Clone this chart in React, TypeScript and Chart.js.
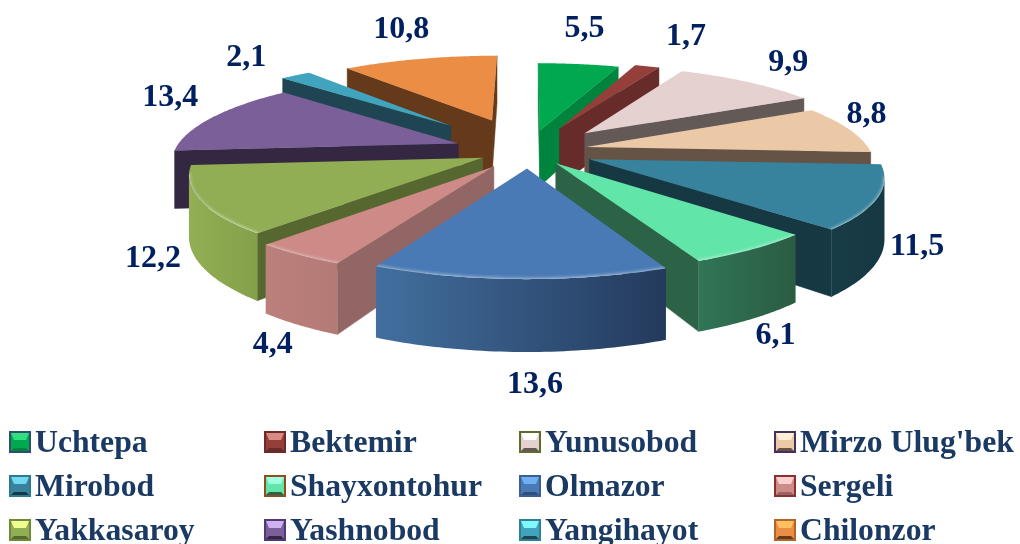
import React, { useEffect, useRef } from "react";
import { Chart, registerables } from "chart.js";

Chart.register(...registerables);

const districts = ["Uchtepa", "Bektemir", "Yunusobod", "Mirzo Ulug'bek", "Mirobod", "Shayxontohur", "Olmazor", "Sergeli", "Yakkasaroy", "Yashnobod", "Yangihayot", "Chilonzor"];
const shares = [5.5, 1.7, 9.9, 8.8, 11.5, 6.1, 13.6, 4.4, 12.2, 13.4, 2.1, 10.8];
const explode = [72, 85, 85, 60, 66, 48, 56, 60, 50, 75, 120, 115];

const topColors = ["#00A84F", "#953F3B", "#E5D1CF", "#EBC9A7", "#37829C", "#62E5A9", "#4A7AB5", "#CD8A87", "#92AE55", "#7B5F99", "#41A4BF", "#EB8D44"];
const sideColors = ["#00843D", "#672B2A", "#635957", "#655345", "#163842", "#2C6346", "#2E4F7A", "#926664", "#566830", "#332741", "#1E4551", "#643A1B"];
const wallLeft = ["#00843D", "#672B2A", "#635957", "#655345", "#183C47", "#307556", "#426F9F", "#BC807C", "#93AF54", "#332741", "#1E4551", "#643A1B"];
const wallRight = ["#00843D", "#672B2A", "#635957", "#655345", "#163842", "#2B5C42", "#243A5C", "#B47A76", "#84A049", "#332741", "#1E4551", "#643A1B"];
const swatchEdge = ["#2F4D75", "#6E2A28", "#5F6A2F", "#43305E", "#2F7A90", "#8A5020", "#3A5F95", "#8A302F", "#6F8A3A", "#4F3A75", "#2F7F95", "#B0652A"];
const swatchLight = ["#30E080", "#D88A85", "#FFFFFF", "#FFEFD5", "#70D8F0", "#A0FFE0", "#70B0F0", "#F8D0D0", "#F0FF90", "#D0B0F0", "#80F8FF", "#FFC060"];

const labelColor = "#002060";
const legendColor = "#1B3A63";
const serif = '"Liberation Serif", "Times New Roman", serif';
const labelFont = `bold 32px ${serif}`;

const RADIUS = 284;
const DEPTH = 58;
const TILT = 0.3;
const PERSPECTIVE = 0.0006;
const labelGap = 34;
const labelShiftX = [2, 30, 23, -13, 2, -5, 16, 2, -10, -14, -33, -11];
const labelShiftY = [-29, -23, -14, -13, -20, 3, 14, 6, -12, -17, -12, -23];

const pie3d = {
  id: "pie3d",
  beforeDatasetsDraw(chart: any) {
    const ctx = chart.ctx;
    const arcs = chart.getDatasetMeta(0).data;
    const items = arcs.map((arc: any, i: number) => {
      const { x, y, startAngle, endAngle, outerRadius } = arc.getProps(["x", "y", "startAngle", "endAngle", "outerRadius"], true);
      const mid = (startAngle + endAngle) / 2;
      const off = arc.options.offset;
      const ox = off * Math.cos(mid);
      const oy = off * Math.sin(mid);
      const project = (u: number, v: number, z = 0) => {
        const s = 1 / (1 - PERSPECTIVE * v);
        return { x: x + u * s, y: y + TILT * v * s + z * s };
      };
      return { i, startAngle, endAngle, outerRadius, mid, off, ox, oy, project, key: (off + outerRadius * 0.66) * Math.sin(mid) };
    });
    const poly = (pts: any[]) => {
      ctx.beginPath();
      pts.forEach((p, n) => (n ? ctx.lineTo(p.x, p.y) : ctx.moveTo(p.x, p.y)));
      ctx.closePath();
    };
    [...items].sort((a: any, b: any) => a.key - b.key).forEach((it: any) => {
      const { i, startAngle, endAngle, outerRadius: r, ox, oy, project } = it;
      const steps = 48;
      const rimAt = (n: number, z = 0) => {
        const a = startAngle + ((endAngle - startAngle) * n) / steps;
        return project(ox + r * Math.cos(a), oy + r * Math.sin(a), z);
      };
      const apex = project(ox, oy);
      const apexLow = project(ox, oy, DEPTH);
      const rim = Array.from({ length: steps + 1 }, (_, n) => rimAt(n));
      const rimLow = Array.from({ length: steps + 1 }, (_, n) => rimAt(n, DEPTH));
      // radial walls
      ctx.fillStyle = sideColors[i];
      ctx.strokeStyle = sideColors[i];
      ctx.lineWidth = 0.5;
      if (rim[0].x < apex.x) {
        poly([apex, rim[0], rimLow[0], apexLow]);
        ctx.fill();
        ctx.stroke();
      }
      if (apex.x < rim[steps].x) {
        poly([apex, rim[steps], rimLow[steps], apexLow]);
        ctx.fill();
        ctx.stroke();
      }
      // rim wall: only the stretches that face the viewer
      const facing: number[] = [];
      for (let n = 0; n < steps; n++) if (rim[n + 1].x < rim[n].x) facing.push(n);
      if (facing.length) {
        const first = facing[0];
        const last = facing[facing.length - 1] + 1;
        const upper = rim.slice(first, last + 1);
        const lower = rimLow.slice(first, last + 1).reverse();
        const g = ctx.createLinearGradient(rim[last].x, 0, rim[first].x, 0);
        g.addColorStop(0, wallLeft[i]);
        g.addColorStop(1, wallRight[i]);
        ctx.fillStyle = g;
        poly([...upper, ...lower]);
        ctx.fill();
      }
      // top face
      ctx.fillStyle = topColors[i];
      poly([apex, ...rim]);
      ctx.fill();
      if (facing.length) {
        ctx.save();
        poly([apex, ...rim]);
        ctx.clip();
        ctx.lineCap = "round";
        [[7, 0.08], [4, 0.12], [2, 0.18]].forEach(([w, alpha]) => {
          ctx.strokeStyle = `rgba(255,255,255,${alpha})`;
          ctx.lineWidth = w;
          ctx.beginPath();
          facing.forEach((n, k) => {
            if (!k) ctx.moveTo(rim[n].x, rim[n].y);
            ctx.lineTo(rim[n + 1].x, rim[n + 1].y);
          });
          ctx.stroke();
        });
        ctx.restore();
      }
    });
    // value labels
    ctx.font = labelFont;
    ctx.fillStyle = labelColor;
    ctx.textAlign = "center";
    ctx.textBaseline = "middle";
    items.forEach((it: any) => {
      const d = it.off + it.outerRadius + labelGap;
      const front = Math.sin(it.mid) > 0;
      const p = it.project(d * Math.cos(it.mid), d * Math.sin(it.mid), front ? DEPTH : 0);
      ctx.fillText(String(shares[it.i]).replace(".", ","), p.x + labelShiftX[it.i], p.y + labelShiftY[it.i]);
    });
    return false;
  },
};

function Swatch({ i }: { i: number }) {
  return (
    <span style={{ position: "absolute", left: 0, top: 0, width: 22, height: 22, boxSizing: "border-box", border: `2px solid ${swatchEdge[i]}`, background: topColors[i] }}>
      <span
        style={{
          display: "block",
          width: 18,
          height: 18,
          boxSizing: "border-box",
          borderStyle: "solid",
          borderWidth: "7px 3px 3px 3px",
          borderTopColor: swatchLight[i],
          borderLeftColor: topColors[i],
          borderRightColor: topColors[i],
          borderBottomColor: sideColors[i],
          background: topColors[i],
        }}
      />
    </span>
  );
}

export default function App() {
  const ref = useRef<HTMLCanvasElement>(null);
  useEffect(() => {
    const chart = new Chart(ref.current as HTMLCanvasElement, {
      type: "pie",
      data: {
        labels: districts,
        datasets: [{ data: shares, backgroundColor: topColors, offset: explode, borderWidth: 0 }],
      },
      options: {
        animation: false,
        responsive: false,
        radius: RADIUS,
        layout: { padding: { left: 36, bottom: 242 } },
        plugins: { legend: { display: false }, tooltip: { enabled: false } },
      } as any,
      plugins: [pie3d],
    });
    return () => chart.destroy();
  }, []);
  return (
    <div style={{ position: "absolute", left: 0, top: 0, width: 1020, height: 544, overflow: "hidden", background: "#fff" }}>
      <canvas ref={ref} width={1020} height={544} style={{ display: "block" }} />
      {districts.map((name, i) => (
        <div
          key={name}
          style={{
            position: "absolute",
            left: 9 + (i % 4) * 255,
            top: 431 + Math.floor(i / 4) * 44,
            height: 22,
            paddingLeft: 26,
            font: `bold 31.7px ${serif}`,
            lineHeight: "22px",
            color: legendColor,
            whiteSpace: "nowrap",
          }}
        >
          <Swatch i={i} />
          {name}
        </div>
      ))}
    </div>
  );
}
